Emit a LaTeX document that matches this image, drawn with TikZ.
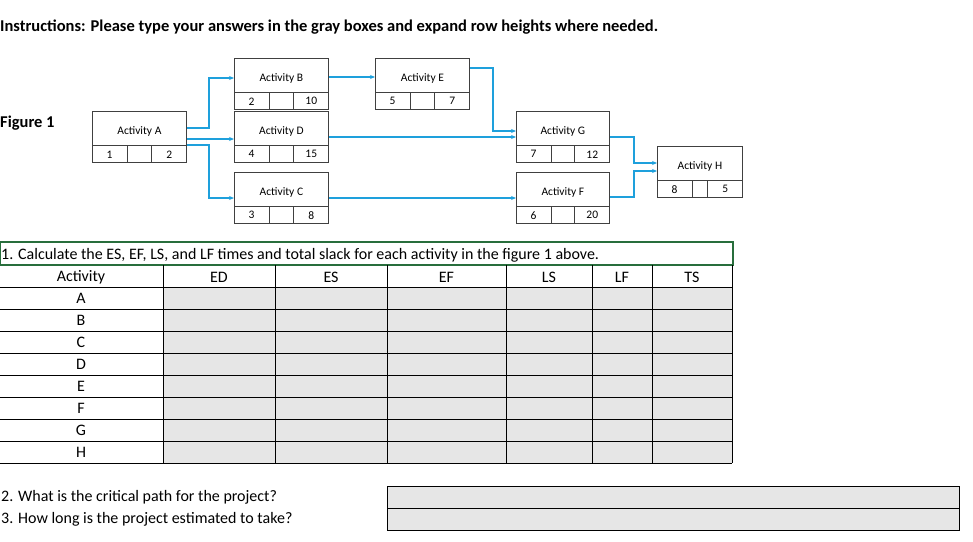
\documentclass[tikz,border=0pt]{standalone}
\usepackage{fontspec}
\setmainfont{Carlito}
\usetikzlibrary{calc,arrows.meta}
\definecolor{arr}{RGB}{30,160,220}
\definecolor{cellg}{RGB}{230,230,230}
\definecolor{grn}{RGB}{40,110,60}
\tikzset{
 actbox/.style={draw=black!75,line width=0.8pt,minimum width=94pt,minimum height=34pt,inner sep=0pt,anchor=north west,font=\fontsize{11.5}{13}\selectfont,text depth=0pt},
 conn/.style={draw=arr,line width=1.2pt,-{Stealth[length=5pt,width=4pt]}},
 cell/.style={font=\fontsize{11.5}{13}\selectfont},
 tcell/.style={font=\fontsize{16}{18}\selectfont}
}
\newcommand{\actnode}[7]{%
 \node[actbox,minimum width=#7pt] (#1) at (#2,#3) {\raisebox{-5pt}{#4}};
 \draw[black!75,line width=0.8pt] (#1.south west) -- ++(0,17) -- ($(#1.south east)+(0,17)$) -- (#1.south east);
 \draw[black!75,line width=0.8pt] ($(#1.south west)+(35,0)$) -- ++(0,17);
 \draw[black!75,line width=0.8pt] ($(#1.south east)+(-35,0)$) -- ++(0,17);
 \node[cell] at ($(#1.south west)+(17.5,8.5)$) {#5};
 \node[cell] at ($(#1.south east)+(-17.5,8.5)$) {#6};
}
\begin{document}
\begin{tikzpicture}[x=1pt,y=-1pt]
\useasboundingbox (0,0) rectangle (973,541);
\fill[white] (0,0) rectangle (973,541);
\node[anchor=west,font=\bfseries\fontsize{16.5}{18}\selectfont,inner sep=0] (instr) at (0,27) {Instructions: Please type your answers in the gray boxes and expand row heights where needed.};
\node[anchor=west,font=\bfseries\fontsize{16.5}{18}\selectfont,inner sep=0] (fig) at (0,123) {Figure 1};
\actnode{A}{92}{111}{Activity A}{1}{2}{94}
\actnode{B}{234}{58}{Activity B}{2}{10}{94}
\actnode{E}{375}{58}{Activity E}{5}{7}{94}
\actnode{D}{234}{111}{Activity D}{4}{15}{94}
\actnode{C}{234}{172}{Activity C}{3}{8}{94}
\actnode{G}{516}{111}{Activity G}{7}{12}{93}
\actnode{F}{516}{172}{Activity F}{6}{20}{93}
\actnode{H}{657}{146}{Activity H}{8}{5}{85}
% connectors
\draw[conn] ($(A.north east)+(0,17)$) -| (209,78) -- (B.west |- 0,78);
\draw[conn] ($(A.north east)+(0,28)$) -- (D.west |- 0,139);
\draw[conn] ($(A.north east)+(0,34)$) -| (209,198) -- (C.west |- 0,198);
\draw[conn] (B.east |- 0,77) -- (E.west |- 0,77);
\draw[conn] (E.east |- 0,68) -| (493,131) -- (G.west |- 0,131);
\draw[conn] (D.east |- 0,137) -- (G.west |- 0,137);
\draw[conn] (C.east |- 0,198) -- (F.west |- 0,198);
\draw[conn] (G.east |- 0,137) -| (634,163) -- (H.west |- 0,163);
\draw[conn] (F.east |- 0,197) -| (634,171) -- (H.west |- 0,171);
% table
\draw[grn,line width=1.3pt] (0,242) rectangle (733,265);
\node[anchor=west,tcell,inner sep=0] (q1) at (1,255) {1. Calculate the ES, EF, LS, and LF times and total slack for each activity in the figure 1 above.};
\fill[cellg] (163,287) rectangle (732,463);
\foreach \yy in {287,309,...,463} \draw[line width=0.9pt] (0,\yy) -- (732,\yy);
\foreach \xx in {163,275,387,506,592,652,732} \draw[line width=0.9pt] (\xx,265) -- (\xx,463);
\foreach \t/\xx in {Activity/81,ED/219,ES/331,EF/446.5,LS/549,LF/622,TS/692}
  \node[tcell] at (\xx,277) {\t};
\foreach \t [count=\i] in {A,B,C,D,E,F,G,H}
  \node[tcell] at (81,{287+22*\i-11}) {\t};
% questions
\node[anchor=west,tcell,inner sep=0] (q2) at (1,497) {2. What is the critical path for the project?};
\node[anchor=west,tcell,inner sep=0] (q3) at (1,519) {3. How long is the project estimated to take?};
\draw[fill=cellg,line width=0.9pt] (387,486) rectangle (959,508);
\draw[fill=cellg,line width=0.9pt] (387,508) rectangle (959,530);
\end{tikzpicture}
\end{document}
